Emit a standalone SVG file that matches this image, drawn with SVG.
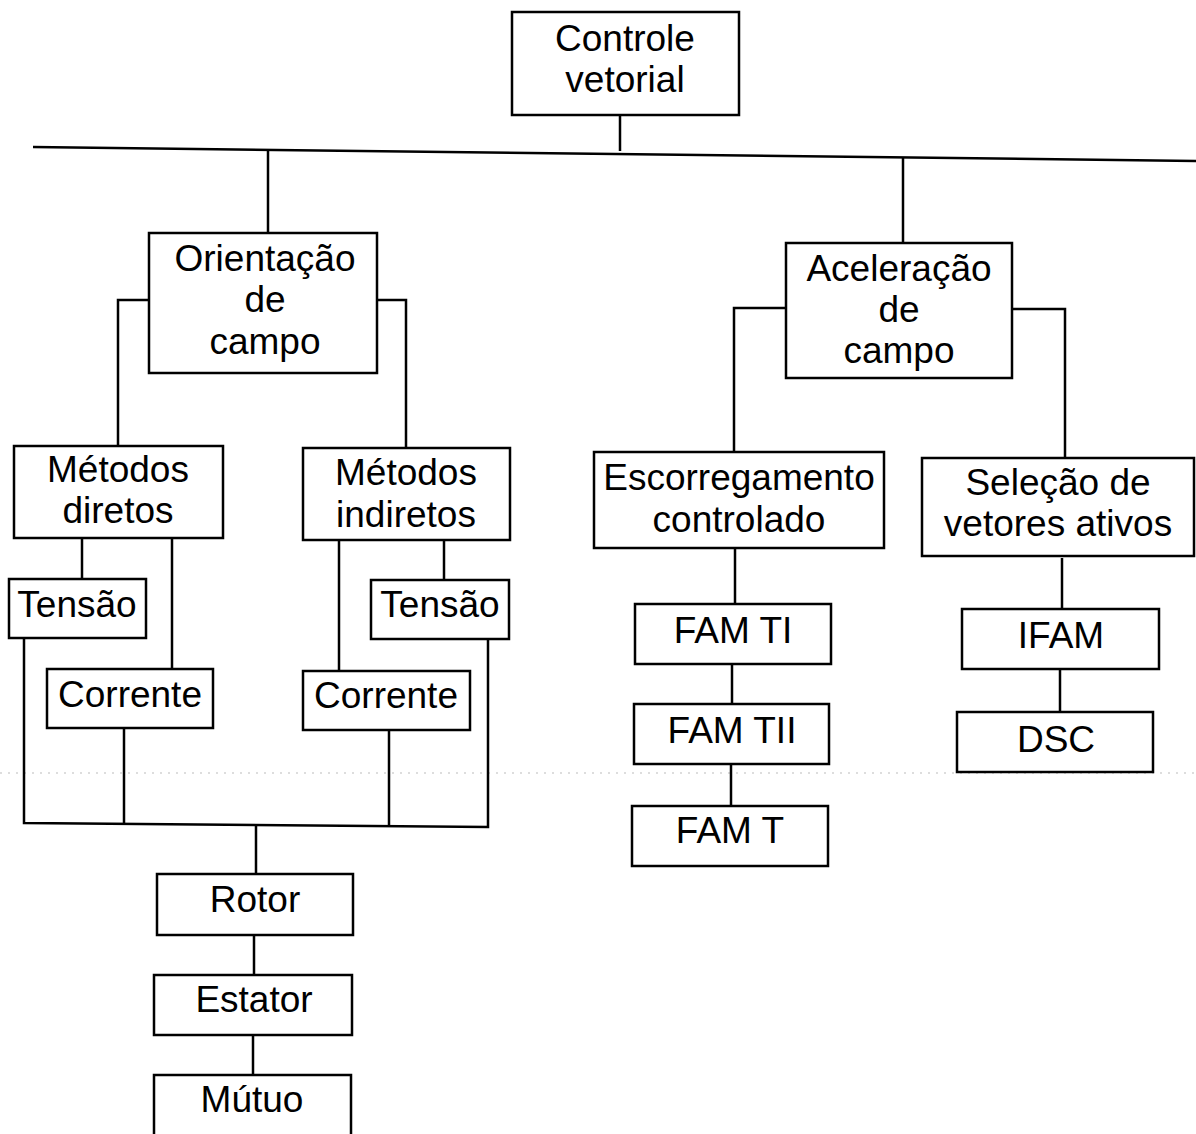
<svg xmlns="http://www.w3.org/2000/svg" width="1196" height="1134" viewBox="0 0 1196 1134">
<style>
.box{fill:#fff;stroke:#000;stroke-width:2.5}
.ln{fill:none;stroke:#000;stroke-width:2.5}
text{font-family:"Liberation Sans",Arial,sans-serif;font-size:37px;fill:#000;text-anchor:middle}
</style>
<rect width="1196" height="1134" fill="#fff"/>
<line x1="0" y1="773" x2="1196" y2="773" stroke="#bbb" stroke-width="1.2" stroke-dasharray="2 6"/>
<g id="connectors">
<polyline class="ln" points="620,115 620,151"/>
<line class="ln" x1="33" y1="147" x2="1196" y2="161"/>
<polyline class="ln" points="268,149 268,233"/>
<polyline class="ln" points="903,157 903,243"/>
<polyline class="ln" points="149,300 118,300 118,446"/>
<polyline class="ln" points="377,300 406,300 406,448"/>
<polyline class="ln" points="82,538 82,579"/>
<polyline class="ln" points="172,538 172,669"/>
<polyline class="ln" points="339,540 339,671"/>
<polyline class="ln" points="444,540 444,580"/>
<polyline class="ln" points="24,638 24,823 488,827 488,639"/>
<polyline class="ln" points="124,728 124,823"/>
<polyline class="ln" points="389,730 389,826"/>
<polyline class="ln" points="256,825 256,874"/>
<polyline class="ln" points="254,935 254,975"/>
<polyline class="ln" points="253,1035 253,1075"/>
<polyline class="ln" points="786,308 734,308 734,452"/>
<polyline class="ln" points="1012,309 1065,309 1065,458"/>
<polyline class="ln" points="735,548 735,604"/>
<polyline class="ln" points="732,664 732,704"/>
<polyline class="ln" points="731,764 731,806"/>
<polyline class="ln" points="1062,558 1062,609"/>
<polyline class="ln" points="1060,669 1060,712"/>
</g>
<g id="n-controle"><rect class="box" x="512" y="12" width="227" height="103"/><text x="625" y="51">Controle</text><text x="625" y="92">vetorial</text></g>
<g id="n-orientacao"><rect class="box" x="149" y="233" width="228" height="140"/><text x="265" y="271">Orientação</text><text x="265" y="312">de</text><text x="265" y="354">campo</text></g>
<g id="n-aceleracao"><rect class="box" x="786" y="243" width="226" height="135"/><text x="899" y="281">Aceleração</text><text x="899" y="322">de</text><text x="899" y="363">campo</text></g>
<g id="n-metodos-diretos"><rect class="box" x="14" y="446" width="209" height="92"/><text x="118" y="482">Métodos</text><text x="118" y="523">diretos</text></g>
<g id="n-metodos-indiretos"><rect class="box" x="303" y="448" width="207" height="92"/><text x="406" y="485">Métodos</text><text x="406" y="527">indiretos</text></g>
<g id="n-tensao-d"><rect class="box" x="9" y="579" width="137" height="59"/><text x="77" y="617">Tensão</text></g>
<g id="n-corrente-d"><rect class="box" x="47" y="669" width="166" height="59"/><text x="130" y="707">Corrente</text></g>
<g id="n-tensao-i"><rect class="box" x="371" y="580" width="138" height="59"/><text x="440" y="617">Tensão</text></g>
<g id="n-corrente-i"><rect class="box" x="303" y="671" width="167" height="59"/><text x="386" y="708">Corrente</text></g>
<g id="n-rotor"><rect class="box" x="157" y="874" width="196" height="61"/><text x="255" y="912">Rotor</text></g>
<g id="n-estator"><rect class="box" x="154" y="975" width="198" height="60"/><text x="254" y="1012">Estator</text></g>
<g id="n-mutuo"><rect class="box" x="154" y="1075" width="197" height="64"/><text x="252" y="1112">Mútuo</text></g>
<g id="n-escorregamento"><rect class="box" x="594" y="452" width="290" height="96"/><text x="739" y="490">Escorregamento</text><text x="739" y="532">controlado</text></g>
<g id="n-selecao"><rect class="box" x="922" y="458" width="272" height="98"/><text x="1058" y="495">Seleção de</text><text x="1058" y="536">vetores ativos</text></g>
<g id="n-famti"><rect class="box" x="635" y="604" width="196" height="60"/><text x="733" y="643">FAM TI</text></g>
<g id="n-famtii"><rect class="box" x="634" y="704" width="195" height="60"/><text x="732" y="743">FAM TII</text></g>
<g id="n-famt"><rect class="box" x="632" y="806" width="196" height="60"/><text x="730" y="843">FAM T</text></g>
<g id="n-ifam"><rect class="box" x="962" y="609" width="197" height="60"/><text x="1061" y="648">IFAM</text></g>
<g id="n-dsc"><rect class="box" x="957" y="712" width="196" height="60"/><text x="1056" y="752">DSC</text></g>
</svg>
